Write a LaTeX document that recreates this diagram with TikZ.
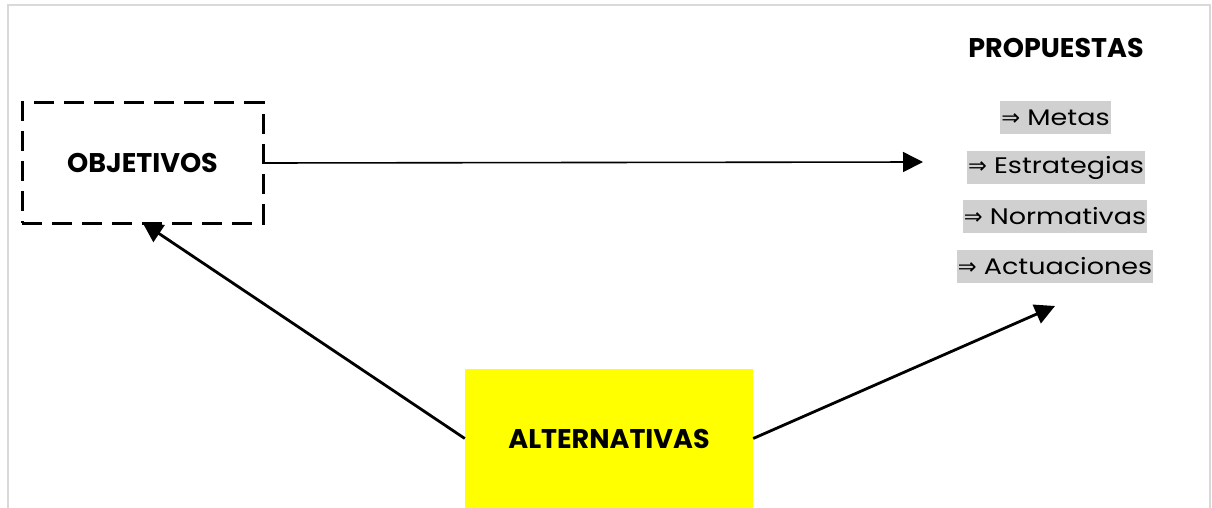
\documentclass[tikz,border=0pt]{standalone}
\usepackage{fontspec}
\setmainfont{Poppins}
\newfontfamily\widefont{Poppins}[FakeStretch=1.2]
\newfontfamily\arrowfont{DejaVu Sans}
\usetikzlibrary{arrows.meta}
\definecolor{framegray}{HTML}{D9D9D9}
\definecolor{hlgray}{HTML}{D0D0D0}
\definecolor{boxyellow}{HTML}{FFFF00}
\newcommand{\imp}{{\arrowfont ⇒}}
\begin{document}
\begin{tikzpicture}[x=1pt,y=-1pt,
  conn/.style={line width=2.8pt,-{Triangle[length=20pt,width=20pt]}},
  heading/.style={font=\fontsize{27}{30}\selectfont\bfseries},
  item/.style={fill=hlgray,inner xsep=1pt,inner ysep=0pt,minimum height=33pt,
    font=\fontsize{22.5}{25}\selectfont\widefont}]
\useasboundingbox (0,0) rectangle (1212,508);
% page frame, open at the bottom
\draw[framegray,line width=2pt] (8,510) -- (8,5) -- (1210,5) -- (1210,510);

\node[heading,draw,line width=3pt,dash pattern=on 20pt off 10pt,
  minimum width=241pt,minimum height=120pt] (obj) at (142.5,163) {OBJETIVOS};
\node[heading,fill=boxyellow,minimum width=288pt,minimum height=139pt]
  (alt) at (609,438.5) {ALTERNATIVAS};

\node[heading] (prop) at (1056,48) {PROPUESTAS};
\node[item] (metas) at (1055.5,118) {\imp{} Metas};
\node[item] (estr) at (1056,167.5) {\imp{} Estrategias};
\node[item] (norm) at (1055,216.5) {\imp{} Normativas};
\node[item] (act) at (1055,266) {\imp{} Actuaciones};

\coordinate (ptop) at (923,162);
\coordinate (pbot) at (1055,306);

\draw[conn,line width=1.6pt] (obj.east) -- (ptop);
\draw[conn] (alt.west) -- ([yshift=2pt]obj.south);
\draw[conn] (alt.east) -- (pbot);
\end{tikzpicture}
\end{document}
